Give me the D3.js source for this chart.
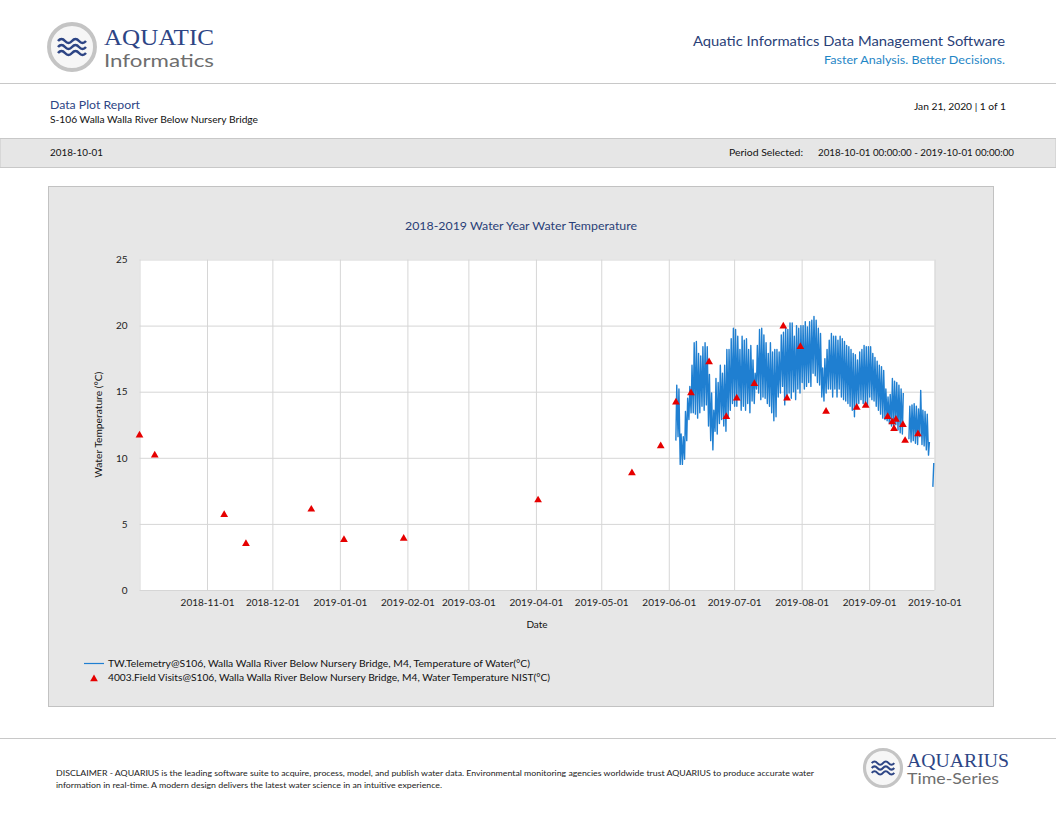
<!DOCTYPE html>
<html>
<head>
<meta charset="utf-8">
<script src="https://cdn.jsdelivr.net/npm/d3@7/dist/d3.min.js"></script>
<style>
  html, body { margin: 0; padding: 0; background: #fff; }
  svg { display: block; font-family: Lato, "Open Sans", sans-serif; }
</style>
</head>
<body>
<svg id="page" width="1056" height="816"></svg>
<script>
// field visits (date, temp °C)
const visitDates = [
  "2018-10-01 00:00", "2018-10-08 00:00", "2018-11-08 21:00", "2018-11-18 21:00",
  "2018-12-18 21:00", "2019-01-02 21:00", "2019-01-30 07:00", "2019-04-02 00:00",
  "2019-05-15 02:00", "2019-05-28 07:00", "2019-06-04 07:00", "2019-06-11 05:00",
  "2019-06-19 12:00", "2019-06-27 10:00", "2019-07-02 05:00", "2019-07-10 07:00",
  "2019-07-23 14:00", "2019-07-25 07:00", "2019-07-31 10:00", "2019-08-12 05:00",
  "2019-08-26 07:00", "2019-08-30 10:00", "2019-09-09 12:00", "2019-09-11 14:00",
  "2019-09-12 10:00", "2019-09-13 07:00", "2019-09-16 12:00", "2019-09-17 12:00",
  "2019-09-23 10:00"
];
const visitTemps = [
  11.7, 10.2, 5.7, 3.5,
  6.1, 3.8, 3.9, 6.8,
  8.85, 10.9, 14.2, 14.9,
  17.25, 13.1, 14.5, 15.6,
  19.95, 14.5, 18.4, 13.5,
  13.8, 13.95, 13.1, 12.7,
  12.2, 12.9, 12.5, 11.3,
  11.8
];

// telemetry: daily max / min (null = no data)
const juneStart = "2019-06-04";
const juneMax = [15.5, 15.2, 11.8, 11.6, 13.5, 14.5, 15.4, 17.0, 18.7, 18.8, 17.9, 17.7, 18.4, 18.7,
  18.4, 16.3, 14.9, 13.6, 16.0, 15.7, 17.0, 16.4, 17.0, 18.2, 18.2, 19.0, 19.8];
const juneMin = [11.3, 11.6, 9.5, 9.5, 9.9, 11.3, 12.9, 13.4, 13.4, 13.3, 13.0, 13.4, 13.9, 13.6,
  14.0, 12.4, 11.3, 10.6, 12.0, 11.8, 12.6, 12.9, 12.4, 12.0, 13.0, 13.6, 14.1];
const julyMax = [19.7, 19.2, 18.2, 19.2, 18.9, 19.0, 18.2, 18.5, 17.4, 16.4, 18.5, 19.7, 19.8, 19.3,
  18.7, 17.9, 18.7, 18.0, 18.2, 18.2, 18.0, 19.3, 19.5, 19.8, 19.7, 20.2, 20.2, 19.2, 20.0, 19.8, 20.0];
const julyMin = [13.9, 13.9, 14.4, 13.6, 13.9, 13.6, 14.1, 13.4, 14.3, 14.1, 15.2, 14.9, 14.4, 14.6,
  14.5, 14.1, 13.9, 13.4, 12.8, 13.1, 14.6, 14.9, 15.4, 14.0, 14.6, 14.9, 14.5, 15.0, 14.4, 15.2, 14.9];
const augMax = [20.0, 20.3, 19.9, 20.3, 20.4, 20.7, 20.4, 19.8, 19.4, 16.8, 17.5, 18.2, 18.9, 19.4,
  19.2, 19.2, 18.9, 19.2, 19.0, 18.8, 18.5, 18.4, 18.2, 17.9, 17.8, 17.4, 18.0, 18.2, 18.5, 18.4, 18.4];
const augMin = [15.7, 15.2, 15.4, 15.7, 15.4, 16.4, 16.2, 15.7, 15.5, 14.6, 14.3, 14.9, 15.2, 15.2,
  14.6, 15.2, 14.6, 15.2, 14.6, 14.4, 14.3, 14.1, 13.9, 13.6, 13.1, 13.8, 14.1, 14.4, 14.1, 14.0, 13.9];
const sepMax = [18.4, 17.9, 17.6, 17.3, 17.0, 16.9, 16.6, 15.2, 14.6, 14.8, 16.0, 15.8, 15.7, 15.5,
  15.2, 14.9, null, null, 13.9, 14.0, 14.1, 13.9, 13.7, 15.1, 13.6, 13.5, 13.3, 11.2, null, 9.6];
const sepMin = [14.6, 14.4, 14.3, 13.9, 13.6, 13.3, 13.0, 12.9, 12.8, 12.6, 12.4, 12.3, 12.5, 12.1,
  11.9, 11.8, null, null, 11.4, 11.2, 11.3, 11.1, 11.0, 11.6, 11.0, 10.9, 10.6, 10.2, null, 7.8];

const yTicks = [0, 5, 10, 15, 20, 25];
const periodStart = "2018-10-01";
const periodEnd = "2019-10-01";

const parseDay = d3.timeParse("%Y-%m-%d");
const parseTime = d3.timeParse("%Y-%m-%d %H:%M");
const fmtDay = d3.timeFormat("%Y-%m-%d");

const svg = d3.select("#page");
const navy = "#2d4585";

// helper: text squeezed/stretched to the width it has in the report
function txt(x, y, s, size, fill, len, anchor) {
  const t = svg.append("text").attr("x", x).attr("y", y).text(s)
    .attr("font-size", size).attr("fill", fill);
  if (anchor) t.attr("text-anchor", anchor);
  if (len) t.attr("textLength", len).attr("lengthAdjust", "spacingAndGlyphs");
  return t;
}

// ---------- header ----------
function logo(g, r) {
  g.append("circle").attr("r", r).attr("fill", "#f6f6f6")
    .attr("stroke", "#c4c4c4").attr("stroke-width", r * 0.17);
  const s = r / 23;
  [-6, 0, 6].forEach(dy => {
    g.append("path")
      .attr("d", `M${-14 * s},${dy * s} q${3.5 * s},${-4 * s} ${7 * s},0 t${7 * s},0 t${7 * s},0 t${7 * s},0`)
      .attr("fill", "none").attr("stroke", navy).attr("stroke-width", 2.6 * s);
  });
}
logo(svg.append("g").attr("transform", "translate(72,47)"), 23);
txt(104, 45, "AQUATIC", 22.5, navy, 110).attr("font-family", "'Liberation Serif', serif");
txt(104, 66.5, "Informatics", 17.5, "#6e6e6e", 110);

txt(1005, 46, "Aquatic Informatics Data Management Software", 14, "#2a3f78", 312, "end");
txt(1005, 64, "Faster Analysis. Better Decisions.", 11.5, "#1f86c6", 181, "end");

svg.append("line").attr("x1", 0).attr("x2", 1056).attr("y1", 83.5).attr("y2", 83.5)
  .attr("stroke", "#c8c8c8");

txt(50, 109, "Data Plot Report", 11.5, navy, 90);
txt(50, 123, "S-106 Walla Walla River Below Nursery Bridge", 9, "#111", 208);
txt(1006, 110, "Jan 21, 2020 | 1 of 1", 9.5, "#111", 92, "end");

// period band
svg.append("rect").attr("x", 0).attr("y", 138.5).attr("width", 1056).attr("height", 29)
  .attr("fill", "#e6e6e6").attr("stroke", "#c8c8c8");
txt(50, 156, periodStart, 9.5, "#111", 53);
txt(729, 156, "Period Selected:", 9.5, "#111", 74);
txt(1014, 156, `${periodStart} 00:00:00 - ${periodEnd} 00:00:00`, 9.5, "#111", 196, "end");

// ---------- chart panel ----------
svg.append("rect").attr("x", 48.5).attr("y", 186.5).attr("width", 945).attr("height", 520)
  .attr("fill", "#e7e7e7").attr("stroke", "#c2c2c2");

txt(521, 230, "2018-2019 Water Year Water Temperature", 12, "#2a3f78", 232, "middle");

const plot = { left: 139.5, right: 934.5, top: 259.5, bottom: 590 };

const x = d3.scaleTime()
  .domain([parseDay(periodStart), parseDay(periodEnd)])
  .range([plot.left, plot.right]);
const y = d3.scaleLinear().domain([0, 25]).range([plot.bottom, plot.top]);

svg.append("rect").attr("x", plot.left).attr("y", plot.top)
  .attr("width", plot.right - plot.left).attr("height", plot.bottom - plot.top)
  .attr("fill", "#fff");

const months = d3.timeMonth.range(x.domain()[0], d3.timeDay.offset(x.domain()[1], 1));

// grid
svg.append("g").attr("class", "grid")
  .attr("transform", `translate(0,${plot.bottom})`)
  .call(d3.axisBottom(x).tickValues(months).tickSize(-(plot.bottom - plot.top)).tickFormat(""))
  .call(g => g.select(".domain").remove())
  .call(g => g.selectAll("line").attr("stroke", "#d6d6d6"));
svg.append("g").attr("class", "grid")
  .attr("transform", `translate(${plot.left},0)`)
  .call(d3.axisLeft(y).tickValues(yTicks).tickSize(-(plot.right - plot.left)).tickFormat(""))
  .call(g => g.select(".domain").remove())
  .call(g => g.selectAll("line").attr("stroke", "#d6d6d6"));

// axes labels
svg.append("g")
  .attr("transform", `translate(0,${plot.bottom})`)
  .call(d3.axisBottom(x).tickValues(months.slice(1)).tickFormat(fmtDay).tickSize(0).tickPadding(9))
  .call(g => g.select(".domain").remove())
  .call(g => g.selectAll("text").attr("font-family", "Lato, sans-serif")
    .attr("font-size", 10).attr("fill", "#222"));
svg.append("g")
  .attr("transform", `translate(${plot.left},0)`)
  .call(d3.axisLeft(y).tickValues(yTicks).tickSize(0).tickPadding(12))
  .call(g => g.select(".domain").remove())
  .call(g => g.selectAll("text").attr("font-family", "Lato, sans-serif")
    .attr("font-size", 10).attr("fill", "#222"));

txt(537, 628, "Date", 10, "#111", null, "middle");
svg.append("text")
  .attr("transform", `translate(102,${(plot.top + plot.bottom) / 2}) rotate(-90)`)
  .attr("text-anchor", "middle").text("Water Temperature (°C)")
  .attr("font-size", 9.5).attr("fill", "#111")
  .attr("textLength", 106).attr("lengthAdjust", "spacingAndGlyphs");

// ---------- telemetry line ----------
function buildDays(start, maxs, mins) {
  const out = [];
  const d0 = parseDay(start);
  maxs.forEach((mx, i) => {
    const day = d3.timeDay.offset(d0, i);
    out.push({ t: d3.timeHour.offset(day, 6), v: mins[i] });
    out.push({ t: d3.timeHour.offset(day, 16), v: mx });
  });
  return out;
}
const telemetry = [].concat(
  buildDays(juneStart, juneMax, juneMin),
  buildDays("2019-07-01", julyMax, julyMin),
  buildDays("2019-08-01", augMax, augMin),
  buildDays("2019-09-01", sepMax, sepMin)
);

const line = d3.line()
  .defined(d => d.v != null)
  .x(d => x(d.t))
  .y(d => y(d.v));

svg.append("path").datum(telemetry)
  .attr("d", line)
  .attr("fill", "none")
  .attr("stroke", "#1f7fd1")
  .attr("stroke-width", 1.4)
  .attr("stroke-linejoin", "round");

// ---------- field visits ----------
const tri = d3.symbol().type(d3.symbolTriangle).size(26);
svg.append("g").selectAll("path")
  .data(visitDates.map((d, i) => ({ t: parseTime(d), v: visitTemps[i] })))
  .join("path")
  .attr("d", tri)
  .attr("transform", d => `translate(${x(d.t)},${y(d.v)})`)
  .attr("fill", "#e60000");

// ---------- legend ----------
svg.append("line").attr("x1", 84).attr("x2", 104).attr("y1", 663.5).attr("y2", 663.5)
  .attr("stroke", "#1f7fd1").attr("stroke-width", 1.2);
txt(108, 667, "TW.Telemetry@S106, Walla Walla River Below Nursery Bridge, M4, Temperature of Water(°C)",
  9.8, "#111", 422);
svg.append("path").attr("d", tri).attr("transform", "translate(94,679)").attr("fill", "#e60000");
txt(108, 681, "4003.Field Visits@S106, Walla Walla River Below Nursery Bridge, M4, Water Temperature NIST(°C)",
  9.8, "#111", 442);

// ---------- footer ----------
svg.append("line").attr("x1", 0).attr("x2", 1056).attr("y1", 738.5).attr("y2", 738.5)
  .attr("stroke", "#c8c8c8");
txt(56, 776, "DISCLAIMER - AQUARIUS is the leading software suite to acquire, process, model, and publish water data. Environmental monitoring agencies worldwide trust AQUARIUS to produce accurate water",
  7.6, "#222", 758);
txt(56, 788, "information in real-time. A modern design delivers the latest water science in an intuitive experience.",
  7.6, "#222", 386);

logo(svg.append("g").attr("transform", "translate(883,768)"), 18.5);
txt(907, 767, "AQUARIUS", 19.5, navy, 102).attr("font-family", "'Liberation Serif', serif");
txt(907, 784, "Time-Series", 15.5, "#6e6e6e", 92);
</script>
</body>
</html>
